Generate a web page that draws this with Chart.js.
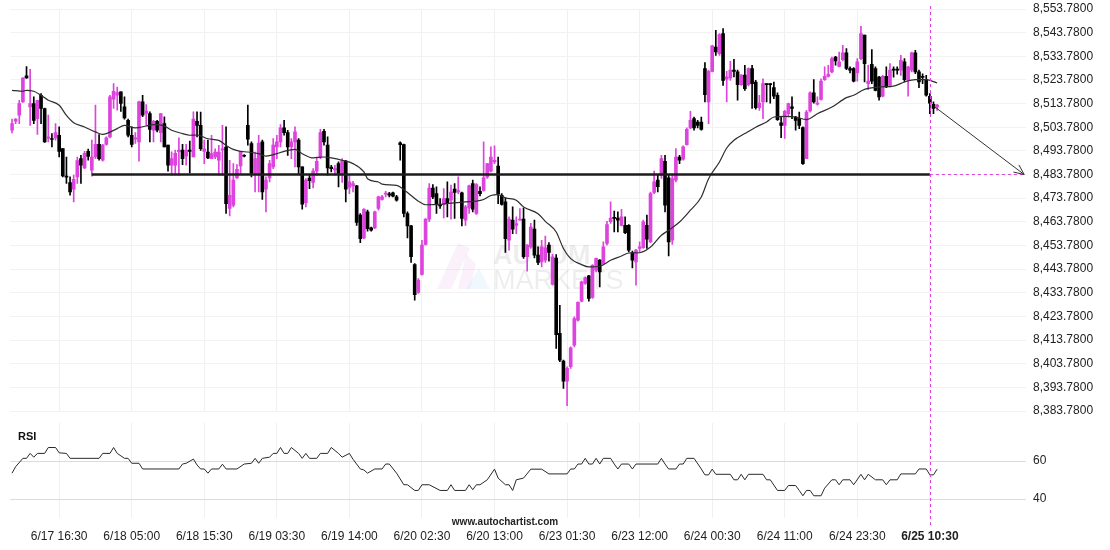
<!DOCTYPE html>
<html>
<head>
<meta charset="utf-8">
<script src="https://cdn.jsdelivr.net/npm/chart.js@4.4.1/dist/chart.umd.min.js"></script>
<style>
  html, body { margin: 0; padding: 0; background: #fff; }
  #wrap { position: relative; width: 1110px; height: 550px; }
  #priceChart { position: absolute; left: 0; top: 0; }
  #rsiChart { position: absolute; left: 0; top: 420px; }
</style>
</head>
<body>
<div id="wrap">
  <canvas id="priceChart" width="1110" height="420"></canvas>
  <canvas id="rsiChart" width="1110" height="130"></canvas>
</div>
<script>
// axis labels, one every 20 candles
const timeLabels = ['6/17 16:30', '6/18 05:00', '6/18 15:30', '6/19 03:30', '6/19 14:00', '6/20 02:30',
  '6/20 13:00', '6/23 01:30', '6/23 12:00', '6/24 00:30', '6/24 11:00', '6/24 23:30', '6/25 10:30'];
const currentLabel = '6/25 10:30';
const firstLabelIndex = 13;
const labelStep = 20;
const slotCount = 280;   // candles + empty projection area on the right

// 30 min candles
const opens = [
  8502.5, 8506.3, 8508.9, 8514.5, 8525.5, 8512.4, 8513.8, 8507.4, 8517.3, 8511.7,
  8499.0, 8499.0, 8499.3, 8500.4, 8494.8, 8483.0, 8480.4, 8477.6, 8482.8, 8490.5,
  8486.6, 8493.6, 8485.6, 8491.2, 8496.5, 8489.8, 8496.5, 8499.7, 8515.6, 8517.3,
  8518.7, 8512.4, 8506.7, 8500.4, 8498.7, 8497.6, 8514.5, 8509.6, 8509.6, 8502.5,
  8506.3, 8501.5, 8505.3, 8496.2, 8487.7, 8487.7, 8493.4, 8494.1, 8491.5, 8494.1,
  8491.2, 8506.3, 8504.6, 8493.6, 8493.3, 8490.5, 8491.2, 8489.8, 8494.2, 8495.4,
  8469.4, 8470.8, 8482.3, 8487.4, 8491.9, 8504.6, 8496.9, 8484.2, 8484.2, 8497.6,
  8477.6, 8482.3, 8487.0, 8495.5, 8497.6, 8503.5, 8501.5, 8495.5, 8497.6, 8498.3,
  8487.0, 8471.9, 8482.3, 8480.4, 8485.2, 8491.2, 8502.1, 8496.2, 8486.9, 8485.7,
  8488.4, 8484.2, 8489.5, 8478.3, 8479.0, 8479.0, 8466.6, 8457.0, 8468.0, 8461.2,
  8461.2, 8469.4, 8473.3, 8475.5, 8475.6, 8476.0, 8474.3, 8497.2, 8496.4, 8467.3,
  8462.1, 8445.7, 8433.9, 8441.5, 8454.2, 8464.9, 8478.1, 8475.7, 8471.1, 8471.1,
  8473.6, 8472.9, 8477.6, 8476.4, 8476.0, 8464.5, 8469.7, 8480.0, 8467.3, 8476.7,
  8477.1, 8482.8, 8485.2, 8489.1, 8487.4, 8475.0, 8472.2, 8456.0, 8464.5, 8462.3,
  8464.5, 8464.9, 8449.0, 8453.2, 8460.7, 8449.7, 8446.8, 8447.6, 8453.9, 8437.3,
  8448.5, 8416.6, 8404.9, 8396.4, 8402.5, 8411.6, 8422.2, 8430.2, 8437.7, 8440.9,
  8431.8, 8443.3, 8447.6, 8446.1, 8454.6, 8463.8, 8465.7, 8465.4, 8462.3, 8462.3,
  8462.3, 8450.8, 8446.8, 8452.5, 8452.8, 8462.3, 8455.3, 8476.2, 8481.4, 8483.5,
  8489.4, 8482.4, 8456.0, 8481.4, 8491.2, 8490.3, 8496.4, 8503.5, 8507.4, 8506.0,
  8506.0, 8528.6, 8514.5, 8527.4, 8537.7, 8534.9, 8543.4, 8524.1, 8524.6, 8527.9,
  8527.2, 8521.8, 8525.8, 8521.8, 8528.6, 8522.9, 8512.1, 8514.5, 8522.2, 8522.2,
  8520.5, 8517.3, 8505.6, 8504.6, 8509.5, 8512.4, 8508.1, 8507.4, 8503.6, 8490.5,
  8510.7, 8518.3, 8513.5, 8515.5, 8523.9, 8525.3, 8527.2, 8533.5, 8529.5, 8532.4,
  8535.2, 8528.6, 8528.6, 8526.7, 8532.8, 8542.7, 8522.2, 8530.4, 8528.6, 8525.0,
  8516.9, 8525.3, 8521.5, 8528.3, 8528.3, 8527.9, 8531.4, 8523.6, 8527.9, 8535.2,
  8527.2, 8525.3, 8523.9, 8516.9, 8513.5, 8512.4
];
const highs = [
  8507.2, 8507.4, 8515.2, 8524.8, 8529.4, 8528.3, 8516.6, 8515.2, 8518.0, 8511.9,
  8508.9, 8501.1, 8505.3, 8503.9, 8494.8, 8491.2, 8482.8, 8483.5, 8491.2, 8491.9,
  8493.6, 8494.5, 8498.3, 8513.1, 8500.7, 8496.5, 8499.7, 8517.3, 8522.2, 8520.8,
  8518.7, 8516.6, 8507.2, 8503.9, 8501.5, 8514.8, 8517.3, 8513.4, 8510.3, 8506.7,
  8506.7, 8509.6, 8508.2, 8496.2, 8493.4, 8494.1, 8499.3, 8496.5, 8496.5, 8497.9,
  8510.3, 8510.3, 8510.2, 8498.3, 8498.3, 8500.4, 8494.7, 8496.1, 8504.6, 8503.9,
  8489.8, 8488.4, 8488.0, 8493.6, 8492.2, 8513.1, 8497.6, 8493.3, 8500.4, 8498.3,
  8482.8, 8489.8, 8499.0, 8500.4, 8504.9, 8506.7, 8502.5, 8499.0, 8503.9, 8499.0,
  8487.0, 8482.1, 8483.5, 8486.3, 8491.2, 8502.9, 8502.9, 8499.7, 8487.7, 8487.7,
  8489.1, 8490.5, 8489.8, 8483.8, 8480.9, 8479.2, 8467.3, 8469.4, 8468.7, 8461.6,
  8468.3, 8474.7, 8475.0, 8476.7, 8476.2, 8476.4, 8475.0, 8497.6, 8496.7, 8468.0,
  8462.3, 8446.1, 8439.8, 8456.0, 8465.2, 8480.0, 8479.5, 8478.6, 8473.6, 8477.8,
  8480.7, 8479.3, 8480.0, 8482.8, 8476.4, 8470.8, 8479.3, 8481.4, 8480.0, 8478.6,
  8497.6, 8488.4, 8495.5, 8495.9, 8491.2, 8475.7, 8473.9, 8465.9, 8470.1, 8465.9,
  8469.4, 8469.7, 8454.2, 8463.1, 8464.5, 8453.2, 8456.0, 8457.8, 8455.0, 8450.0,
  8449.9, 8428.5, 8405.3, 8402.5, 8410.9, 8423.6, 8429.9, 8438.7, 8440.5, 8441.2,
  8445.7, 8448.5, 8447.8, 8455.3, 8464.0, 8472.2, 8468.3, 8468.0, 8469.1, 8465.9,
  8462.6, 8451.4, 8452.2, 8455.3, 8464.5, 8466.6, 8476.4, 8485.2, 8483.8, 8491.9,
  8491.9, 8483.8, 8483.8, 8494.8, 8491.9, 8495.9, 8503.5, 8510.5, 8508.1, 8506.7,
  8508.1, 8531.1, 8527.9, 8538.4, 8544.8, 8543.4, 8545.5, 8527.4, 8531.7, 8532.5,
  8527.9, 8526.0, 8530.0, 8528.9, 8530.0, 8523.6, 8517.3, 8524.3, 8522.2, 8522.2,
  8522.9, 8518.3, 8508.1, 8510.9, 8514.0, 8516.6, 8508.4, 8510.2, 8503.9, 8510.9,
  8518.7, 8523.9, 8516.6, 8524.3, 8529.3, 8530.0, 8533.5, 8533.8, 8535.6, 8538.4,
  8537.0, 8529.3, 8529.0, 8532.8, 8546.5, 8542.7, 8530.0, 8536.6, 8529.3, 8525.3,
  8525.7, 8529.3, 8530.7, 8529.3, 8529.3, 8534.2, 8532.8, 8529.5, 8535.6, 8536.3,
  8527.9, 8526.4, 8525.7, 8518.0, 8514.5, 8513.5
];
const lows = [
  8501.4, 8505.3, 8505.3, 8514.3, 8524.4, 8504.6, 8505.3, 8500.7, 8505.3, 8497.4,
  8497.6, 8495.5, 8498.3, 8491.2, 8482.8, 8480.0, 8475.0, 8472.2, 8480.0, 8480.0,
  8486.3, 8489.8, 8483.1, 8490.5, 8489.8, 8489.4, 8496.2, 8499.3, 8511.7, 8511.0,
  8510.5, 8507.2, 8499.7, 8495.5, 8496.9, 8489.4, 8508.2, 8504.6, 8497.6, 8497.6,
  8501.8, 8497.6, 8495.5, 8485.2, 8483.5, 8483.5, 8483.5, 8488.0, 8487.7, 8484.5,
  8491.2, 8499.7, 8494.0, 8488.4, 8490.5, 8490.5, 8490.5, 8483.5, 8483.5, 8467.3,
  8466.3, 8470.1, 8482.1, 8484.2, 8491.2, 8496.2, 8482.8, 8476.4, 8476.4, 8473.3,
  8468.0, 8480.7, 8486.3, 8490.5, 8495.5, 8500.4, 8491.9, 8490.5, 8487.0, 8484.2,
  8469.1, 8470.1, 8477.8, 8478.1, 8483.5, 8490.5, 8496.2, 8483.5, 8484.9, 8483.5,
  8478.5, 8480.4, 8472.2, 8475.7, 8476.4, 8462.3, 8455.0, 8456.7, 8459.8, 8459.8,
  8460.9, 8468.7, 8472.9, 8474.3, 8474.3, 8474.3, 8472.5, 8489.8, 8465.9, 8457.0,
  8446.6, 8430.6, 8433.5, 8441.2, 8453.9, 8463.8, 8473.6, 8467.3, 8469.4, 8465.4,
  8465.9, 8464.9, 8465.2, 8475.7, 8462.1, 8462.3, 8467.3, 8468.0, 8466.9, 8474.7,
  8476.7, 8482.1, 8484.9, 8488.4, 8471.5, 8470.8, 8450.8, 8451.8, 8458.8, 8458.8,
  8464.5, 8448.3, 8442.9, 8452.5, 8448.5, 8445.7, 8444.7, 8446.6, 8447.1, 8437.0,
  8410.2, 8404.6, 8393.3, 8386.0, 8401.8, 8410.9, 8421.8, 8429.9, 8437.3, 8430.2,
  8431.4, 8442.6, 8436.3, 8445.7, 8453.9, 8463.1, 8459.5, 8459.5, 8462.1, 8458.8,
  8451.1, 8444.3, 8437.0, 8451.1, 8452.5, 8452.5, 8455.0, 8475.7, 8476.4, 8482.1,
  8468.0, 8449.4, 8454.2, 8480.7, 8488.4, 8489.8, 8496.2, 8503.2, 8502.5, 8503.5,
  8502.5, 8514.5, 8505.3, 8527.2, 8534.2, 8534.2, 8521.5, 8514.5, 8523.6, 8525.1,
  8515.2, 8521.5, 8519.4, 8521.2, 8511.7, 8511.4, 8510.9, 8507.4, 8514.5, 8514.0,
  8515.9, 8506.7, 8499.4, 8499.0, 8508.1, 8507.4, 8502.5, 8503.2, 8488.1, 8490.5,
  8510.2, 8514.0, 8513.1, 8515.2, 8523.6, 8525.0, 8526.7, 8530.0, 8529.3, 8531.8,
  8528.1, 8526.7, 8522.9, 8523.3, 8532.4, 8522.9, 8519.7, 8522.2, 8519.1, 8515.2,
  8516.6, 8520.5, 8520.8, 8525.0, 8526.2, 8525.7, 8522.9, 8516.9, 8527.2, 8526.4,
  8520.5, 8522.2, 8516.9, 8509.5, 8509.5, 8510.9
];
const closes = [
  8505.3, 8507.2, 8513.8, 8524.6, 8524.6, 8513.8, 8506.7, 8515.2, 8511.7, 8497.6,
  8499.7, 8498.6, 8501.5, 8493.6, 8483.2, 8482.7, 8476.4, 8481.8, 8489.7, 8487.7,
  8492.7, 8491.4, 8491.2, 8496.5, 8490.5, 8496.2, 8499.3, 8516.6, 8519.0, 8518.4,
  8513.8, 8507.7, 8500.4, 8496.5, 8499.3, 8514.5, 8508.9, 8510.6, 8502.9, 8506.3,
  8502.5, 8509.6, 8495.5, 8487.7, 8490.5, 8492.7, 8494.1, 8490.5, 8494.1, 8493.6,
  8507.2, 8504.6, 8494.7, 8494.7, 8490.8, 8492.6, 8493.3, 8493.3, 8494.7, 8471.5,
  8475.0, 8481.4, 8486.0, 8493.6, 8491.5, 8498.7, 8484.2, 8490.5, 8497.1, 8476.4,
  8481.4, 8488.4, 8496.2, 8497.6, 8503.5, 8501.5, 8495.5, 8497.6, 8501.8, 8487.0,
  8471.2, 8481.4, 8481.2, 8485.2, 8489.4, 8501.5, 8497.6, 8486.6, 8486.3, 8486.3,
  8484.2, 8489.8, 8477.6, 8480.7, 8480.0, 8463.5, 8456.7, 8469.1, 8460.9, 8460.2,
  8468.0, 8474.3, 8474.3, 8475.9, 8475.0, 8474.6, 8472.9, 8496.4, 8467.3, 8462.1,
  8449.0, 8433.0, 8439.1, 8453.9, 8464.9, 8478.1, 8474.3, 8471.1, 8470.5, 8473.6,
  8471.5, 8476.4, 8476.2, 8477.0, 8465.2, 8470.1, 8479.0, 8469.1, 8479.5, 8475.7,
  8482.4, 8488.4, 8491.2, 8489.8, 8475.7, 8471.1, 8456.7, 8464.9, 8460.7, 8463.0,
  8464.9, 8449.0, 8453.9, 8461.6, 8449.7, 8446.6, 8453.2, 8452.8, 8450.8, 8449.0,
  8416.1, 8405.3, 8396.4, 8401.8, 8410.5, 8422.9, 8429.7, 8438.4, 8440.2, 8431.4,
  8445.4, 8448.3, 8442.6, 8453.2, 8462.6, 8465.4, 8465.2, 8464.5, 8465.9, 8459.2,
  8451.8, 8447.6, 8451.8, 8453.2, 8463.8, 8456.4, 8475.7, 8480.7, 8478.6, 8490.5,
  8470.8, 8455.3, 8482.1, 8491.2, 8489.8, 8495.5, 8502.9, 8506.7, 8503.5, 8504.6,
  8502.9, 8517.6, 8527.4, 8538.2, 8535.6, 8543.0, 8523.6, 8525.1, 8527.9, 8527.4,
  8521.8, 8525.8, 8520.1, 8528.6, 8522.2, 8512.1, 8514.0, 8522.2, 8521.8, 8521.8,
  8516.9, 8507.0, 8504.6, 8510.5, 8513.8, 8511.7, 8506.7, 8504.6, 8488.4, 8510.2,
  8518.3, 8514.5, 8514.0, 8523.3, 8525.3, 8526.2, 8532.8, 8531.8, 8531.4, 8535.2,
  8528.6, 8527.9, 8523.3, 8531.4, 8543.4, 8530.7, 8523.3, 8523.3, 8519.4, 8516.6,
  8525.3, 8520.8, 8527.9, 8527.9, 8527.9, 8532.1, 8523.9, 8529.3, 8535.2, 8527.2,
  8522.9, 8524.8, 8517.3, 8514.0, 8511.7, 8513.1
];

// moving average, read as [candle index, value]
const maPoints = [
  [0, 8519.4], [3, 8519.0], [4, 8519.4], [6, 8519.0], [8, 8517.3], [10, 8515.2], [13, 8513.1],
  [15, 8508.8], [17, 8505.7], [20, 8503.9], [23, 8501.8], [25, 8500.8], [26, 8501.1], [29, 8503.2],
  [31, 8504.6], [34, 8503.5], [37, 8504.3], [39, 8504.9], [42, 8504.3], [44, 8502.5], [47, 8501.1],
  [49, 8500.4], [51, 8500.5], [54, 8498.9], [57, 8498.2], [59, 8496.1], [61, 8494.4], [63, 8493.6],
  [65, 8493.3], [68, 8492.6], [70, 8491.6], [73, 8492.6], [75, 8493.6], [78, 8494.4], [80, 8492.6],
  [83, 8490.8], [86, 8491.2], [88, 8490.8], [91, 8489.8], [94, 8488.4], [97, 8484.9], [98, 8482.0],
  [101, 8480.6], [102, 8479.7], [106, 8479.2], [107, 8478.5], [110, 8474.9], [112, 8472.5],
  [114, 8471.0], [118, 8471.2], [121, 8471.7], [125, 8472.2], [128, 8472.5], [130, 8473.2],
  [132, 8474.9], [134, 8475.3], [136, 8473.9], [139, 8472.9], [141, 8470.1], [145, 8467.2],
  [147, 8464.0], [150, 8459.5], [152, 8452.5], [154, 8448.2], [157, 8445.7], [159, 8444.7],
  [162, 8445.0], [165, 8447.5], [168, 8449.3], [170, 8450.6], [173, 8450.7], [176, 8453.1],
  [179, 8458.1], [181, 8460.2], [184, 8463.7], [187, 8468.7], [190, 8474.3], [192, 8482.0],
  [195, 8489.1], [197, 8495.0], [199, 8498.3], [202, 8501.1], [205, 8503.8], [208, 8506.0],
  [210, 8508.1], [213, 8508.4], [216, 8508.1], [219, 8507.0], [222, 8509.5], [226, 8512.3],
  [230, 8516.3], [232, 8517.3], [235, 8519.8], [239, 8520.8], [243, 8521.2], [246, 8522.9],
  [249, 8523.9], [252, 8523.9], [255, 8522.5]
];

// RSI, read as [candle index, value]
const rsiPoints = [
  [0, 53.6], [1, 57], [3, 61.4], [4, 61.4], [5, 64], [6, 62], [7, 64], [9, 64], [10, 67.1], [12, 67.1],
  [13, 64.3], [15, 64], [16, 61.4], [24, 61.4], [25, 64], [27, 64], [28, 67.1], [29, 64], [31, 61.4],
  [32, 61.4], [33, 58.8], [35, 58.8], [36, 55.8], [46, 55.8], [47, 58.4], [48, 58.8], [50, 61],
  [51, 57.9], [52, 55.8], [53, 55.8], [54, 53.6], [55, 55.8], [57, 55.8], [58, 58.3], [59, 55.8],
  [62, 55.8], [64, 58.4], [66, 58.8], [67, 61.4], [68, 58.8], [69, 61.4], [71, 62], [72, 64],
  [73, 64], [74, 67.1], [75, 64], [76, 64], [77, 67.1], [79, 64], [80, 61.4], [81, 64], [82, 61.4],
  [84, 61.4], [85, 64], [87, 64], [88, 67.1], [90, 64], [91, 62], [93, 64], [94, 60.9], [96, 55.8],
  [97, 55.3], [98, 53.6], [100, 55.8], [102, 55.8], [103, 58.4], [104, 58.4], [106, 53.6],
  [108, 47.5], [109, 47.5], [111, 44.5], [112, 44.5], [113, 47.5], [115, 47.5], [118, 44.5],
  [120, 44.5], [121, 47.5], [122, 44.5], [125, 44.5], [126, 47.5], [127, 44.9], [128, 47.5],
  [129, 47.5], [131, 50.1], [133, 55.7], [134, 51], [136, 47.5], [137, 47.5], [138, 44.5],
  [139, 50.1], [141, 51], [143, 55.7], [146, 55.7], [148, 53.2], [153, 53.2], [154, 55.8],
  [155, 55.8], [156, 58.4], [157, 58.4], [158, 61.4], [159, 58.4], [160, 58.4], [161, 61.4],
  [162, 58.4], [163, 61.4], [165, 61.4], [166, 58.4], [167, 55.8], [168, 58.4], [170, 58.4],
  [171, 55.8], [172, 58.4], [178, 58.4], [179, 61.4], [180, 58.4], [181, 55.8], [183, 55.8],
  [184, 58.4], [185, 58.4], [186, 61.4], [188, 61.4], [190, 55.8], [191, 52.7], [192, 52.7],
  [193, 55.7], [194, 53], [198, 53], [199, 50.1], [200, 50.1], [201, 53], [202, 50.1], [203, 53],
  [207, 53], [208, 50.1], [209, 50.1], [211, 44.5], [213, 44.5], [214, 47.1], [216, 47.1],
  [217, 44.5], [218, 41.7], [219, 44.5], [220, 44.5], [221, 41.7], [223, 41.7], [224, 45.7],
  [226, 50.1], [227, 50.1], [228, 47.5], [229, 50.1], [231, 50.1], [232, 47.5], [234, 53],
  [235, 50.1], [236, 53], [238, 50.1], [240, 50.1], [241, 47.5], [242, 50.1], [244, 50.1],
  [245, 53.2], [249, 53.2], [250, 55.8], [252, 55.8], [253, 52.7], [254, 52.7], [255, 55.7]
];

const priceTicks = [8383.78, 8393.78, 8403.78, 8413.78, 8423.78, 8433.78, 8443.78, 8453.78, 8463.78,
  8473.78, 8483.78, 8493.78, 8503.78, 8513.78, 8523.78, 8533.78, 8543.78, 8553.78];
const rsiTicks = [40, 60];
const rsiRange = [30, 80];
const supportLevel = 8483.78;
const supportStartIndex = 22;
const arrowStartValue = 8512.8;

const UP = '#dd44dd';
const DOWN = '#000000';
const FONT = '"Liberation Sans", Arial, sans-serif';

const categories = new Array(slotCount).fill('');
timeLabels.forEach((t, k) => { categories[firstLabelIndex + k * labelStep] = t; });
const nowIndex = categories.indexOf(currentLabel);
const arrowFrom = closes.length - 2;

function sparse(points) {
  const arr = new Array(slotCount).fill(null);
  points.forEach(([i, v]) => { arr[i] = v; });
  return arr;
}

const candleColors = opens.map((o, i) => closes[i] >= o ? UP : DOWN);

const gridAtLabels = (c) => (c.tick && c.tick.label) ? '#f0f0f0' : 'rgba(0,0,0,0)';

const nowLine = {
  id: 'nowLine',
  afterDatasetsDraw(chart, args, opts) {
    const x = Math.round(chart.scales.x.getPixelForValue(nowIndex)) + 0.5;
    const ctx = chart.ctx;
    ctx.save();
    ctx.strokeStyle = UP;
    ctx.lineWidth = 1;
    ctx.setLineDash([3, 3]);
    ctx.beginPath();
    ctx.moveTo(x, opts.top);
    ctx.lineTo(x, opts.bottom);
    ctx.stroke();
    ctx.restore();
  }
};

const arrowHead = {
  id: 'arrowHead',
  afterDatasetsDraw(chart) {
    const idx = chart.data.datasets.findIndex(d => d.label === 'forecast');
    const meta = chart.getDatasetMeta(idx);
    const a = meta.data[arrowFrom], b = meta.data[slotCount - 1];
    const ang = Math.atan2(b.y - a.y, b.x - a.x);
    const len = 11, spread = 0.42;
    const ctx = chart.ctx;
    ctx.save();
    ctx.strokeStyle = '#333';
    ctx.lineWidth = 1;
    ctx.beginPath();
    ctx.moveTo(b.x - len * Math.cos(ang - spread), b.y - len * Math.sin(ang - spread));
    ctx.lineTo(b.x, b.y);
    ctx.lineTo(b.x - len * Math.cos(ang + spread), b.y - len * Math.sin(ang + spread));
    ctx.stroke();
    ctx.restore();
  }
};

// faint broker watermark behind the candles
const watermark = {
  id: 'watermark',
  beforeDatasetsDraw(chart) {
    const ctx = chart.ctx;
    ctx.save();
    ctx.fillStyle = 'rgba(220,120,220,0.10)';
    ctx.beginPath();
    ctx.moveTo(437, 289); ctx.lineTo(451, 289); ctx.lineTo(470, 248); ctx.lineTo(458, 243); ctx.closePath();
    ctx.fill();
    ctx.beginPath();
    ctx.moveTo(458, 289); ctx.lineTo(470, 289); ctx.lineTo(476, 264); ctx.lineTo(466, 254); ctx.closePath();
    ctx.fill();
    ctx.fillStyle = 'rgba(120,200,240,0.12)';
    ctx.beginPath();
    ctx.moveTo(466, 289); ctx.lineTo(490, 289); ctx.lineTo(479, 268); ctx.closePath();
    ctx.fill();
    ctx.fillStyle = 'rgba(0,0,0,0.07)';
    ctx.textBaseline = 'alphabetic';
    ctx.font = 'bold 27px ' + FONT;
    ctx.fillText('AUTUM', 493, 264);
    ctx.font = '27px ' + FONT;
    ctx.fillText('MARKETS', 493, 289);
    ctx.restore();
  }
};

const panelText = {
  id: 'panelText',
  afterDraw(chart) {
    const ctx = chart.ctx;
    ctx.save();
    ctx.fillStyle = '#111';
    ctx.textBaseline = 'middle';
    ctx.font = 'bold 11px ' + FONT;
    ctx.fillText('RSI', 18, 17);
    ctx.font = 'bold 10px ' + FONT;
    ctx.fillStyle = '#222';
    ctx.textAlign = 'center';
    ctx.fillText('www.autochartist.com', 505, 102);
    ctx.restore();
  }
};

const yTickFont = { family: FONT, size: 12 };

new Chart(document.getElementById('priceChart'), {
  type: 'bar',
  data: {
    labels: categories,
    datasets: [
      { type: 'bar', label: 'wick', data: lows.map((l, i) => [l, highs[i]]), backgroundColor: candleColors,
        barThickness: 1, grouped: false, order: 6 },
      { type: 'bar', label: 'body', data: opens.map((o, i) => [o, closes[i]]), backgroundColor: candleColors,
        barThickness: 3, minBarLength: 1, grouped: false, order: 5 },
      { type: 'line', label: 'ma', data: sparse(maPoints), borderColor: '#2e2e2e', borderWidth: 1.2,
        pointRadius: 0, spanGaps: true, cubicInterpolationMode: 'monotone', order: 4 },
      { type: 'line', label: 'support', data: sparse([[supportStartIndex, supportLevel], [nowIndex, supportLevel]]),
        borderColor: '#1c1c1c', borderWidth: 2.5, pointRadius: 0, spanGaps: true, order: 3 },
      { type: 'line', label: 'projection', data: sparse([[nowIndex, supportLevel], [slotCount - 1, supportLevel]]),
        borderColor: UP, borderWidth: 1, borderDash: [3, 3], pointRadius: 0, spanGaps: true, order: 2 },
      { type: 'line', label: 'forecast', data: sparse([[arrowFrom, arrowStartValue], [slotCount - 1, supportLevel]]),
        borderColor: '#333', borderWidth: 1, pointRadius: 0, spanGaps: true, order: 1 }
    ]
  },
  options: {
    responsive: false,
    animation: false,
    events: [],
    layout: { padding: { left: 10.2, top: 9, right: 0, bottom: 0 } },
    plugins: { legend: { display: false }, tooltip: { enabled: false }, nowLine: { top: 6, bottom: 420 } },
    scales: {
      x: {
        offset: true,
        grid: { offset: false, drawTicks: false, color: gridAtLabels },
        border: { display: false },
        ticks: { display: false, autoSkip: false, maxRotation: 0, minRotation: 0 },
        afterFit: s => { s.height = 9; s.paddingLeft = 0; s.paddingRight = 0; }
      },
      y: {
        position: 'right',
        min: priceTicks[0],
        max: priceTicks[priceTicks.length - 1],
        afterBuildTicks: s => { s.ticks = priceTicks.map(v => ({ value: v })); },
        grid: { color: '#f2f2f2', drawTicks: false },
        border: { display: false },
        ticks: {
          padding: 7, color: '#222', font: yTickFont,
          callback: v => Number(v).toLocaleString('en-US', { minimumFractionDigits: 4, maximumFractionDigits: 4 })
        },
        afterFit: s => { s.width = 84; s.paddingTop = 0; s.paddingBottom = 0; }
      }
    }
  },
  plugins: [watermark, nowLine, arrowHead]
});

new Chart(document.getElementById('rsiChart'), {
  type: 'line',
  data: {
    labels: categories,
    datasets: [
      { label: 'rsi', data: sparse(rsiPoints), borderColor: '#2a2a2a', borderWidth: 1, pointRadius: 0,
        spanGaps: true, tension: 0 }
    ]
  },
  options: {
    responsive: false,
    animation: false,
    events: [],
    layout: { padding: { left: 10.2, top: 3, right: 0, bottom: 0 } },
    plugins: { legend: { display: false }, tooltip: { enabled: false }, nowLine: { top: 0, bottom: 108 } },
    scales: {
      x: {
        offset: true,
        grid: { offset: false, drawTicks: false, color: gridAtLabels },
        border: { display: false },
        ticks: {
          autoSkip: false, maxRotation: 0, minRotation: 0, padding: 11, color: '#222',
          font: c => ({ family: FONT, size: 12, weight: (c.tick && c.tick.label === currentLabel) ? 'bold' : 'normal' })
        },
        afterFit: s => { s.height = 32; s.paddingLeft = 0; s.paddingRight = 0; }
      },
      y: {
        position: 'right',
        min: rsiRange[0],
        max: rsiRange[1],
        afterBuildTicks: s => { s.ticks = rsiTicks.map(v => ({ value: v })); },
        grid: { color: '#dcdcdc', drawTicks: false },
        border: { display: false },
        ticks: { padding: 7, color: '#222', font: yTickFont },
        afterFit: s => { s.width = 84; s.paddingTop = 0; s.paddingBottom = 0; }
      }
    }
  },
  plugins: [nowLine, panelText]
});
</script>
</body>
</html>
